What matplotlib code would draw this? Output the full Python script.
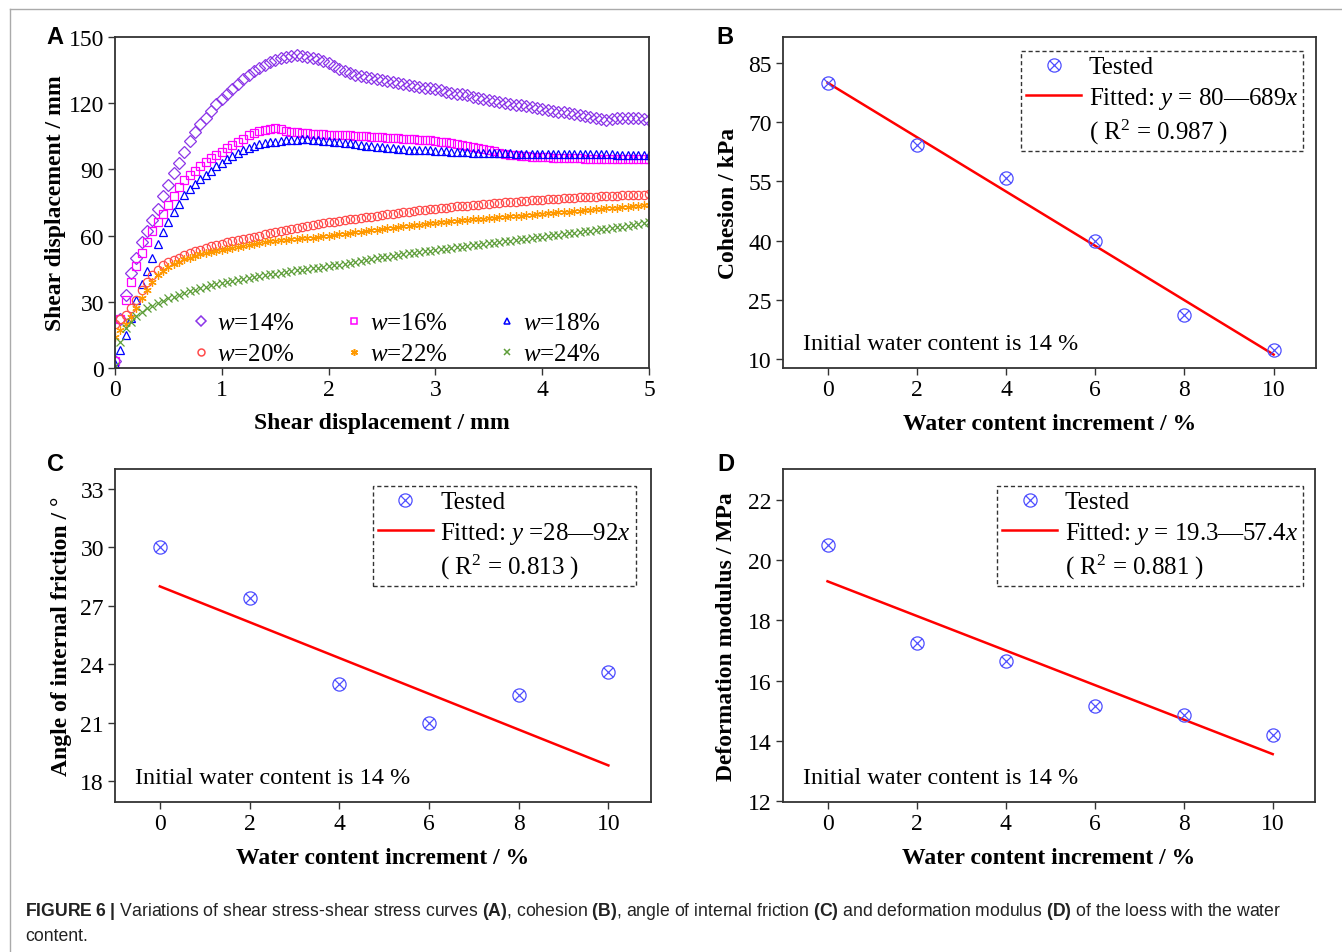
import numpy as np
import matplotlib.pyplot as plt
from matplotlib.path import Path
from matplotlib.lines import Line2D
from matplotlib.ticker import FormatStrFormatter

plt.rcParams['font.family'] = ['Liberation Serif', 'DejaVu Serif']
plt.rcParams['mathtext.fontset'] = 'custom'
plt.rcParams['mathtext.rm'] = 'Liberation Serif'
plt.rcParams['mathtext.it'] = 'Liberation Serif:italic'
plt.rcParams['mathtext.bf'] = 'Liberation Sans:bold'

# ---- panel A: shear curves, sampled every 0.05 mm ----
shear_x = np.round(np.arange(0, 5.001, 0.05), 2)
w14 = [3, 22, 33, 43, 50, 57, 62, 67, 72, 78,
       83, 88.5, 93, 98, 103, 107, 110.5, 113.5, 116.5, 119.5,
       122, 124, 126.5, 128.5, 131, 133, 134.5, 136, 137.5, 138.5,
       139.5, 140.5, 141, 141.5, 141.8, 141.5, 141, 140.5, 140, 139,
       138, 136.8, 135.5, 134.5, 133.5, 133, 132.5, 131.8, 131.5, 131,
       130.5, 130, 129.8, 129.3, 128.8, 128.3, 127.8, 127.3, 127, 126.7,
       126.3, 125.8, 125.3, 124.8, 124.3, 124, 123.6, 123, 122.3, 121.8,
       121.3, 120.9, 120.5, 120.2, 119.8, 119.4, 119, 118.6, 118.3, 118,
       117.5, 117, 116.6, 116.2, 115.8, 115.5, 115, 114.6, 114.2, 113.8,
       113.3, 112.8, 112.5, 113, 113.4, 113.5, 113.5, 113.4, 113.3, 113,
       112.5]
w16 = [3, 22, 31, 39, 46, 52, 57, 62, 66, 70,
       74, 78, 82, 85, 87.5, 89.5, 91.5, 93.3, 95, 96.5,
       98, 99.5, 101, 102.5, 104, 105.5, 106.5, 107.5, 108, 108.5,
       108.7, 108.5, 107.5, 107, 106.8, 106.5, 106.3, 106.2, 106, 105.9,
       105.8, 105.7, 105.6, 105.5, 105.4, 105.3, 105.1, 105, 104.8, 104.6,
       104.5, 104.4, 104.3, 104.2, 104.0, 103.9, 103.7, 103.5, 103.3, 103.1,
       102.9, 102.6, 102.3, 101.9, 101.5, 101, 100.6, 100.2, 99.8, 99.3,
       98.8, 98.2, 97.6, 97.1, 96.7, 96.4, 96.1, 95.9, 95.7, 95.6,
       95.5, 95.4, 95.3, 95.2, 95.1, 95.1, 95, 95, 94.9, 94.9,
       94.9, 94.8, 94.8, 94.8, 94.8, 94.7, 94.7, 94.7, 94.7, 94.7,
       94.7]
w18 = [2, 8, 15, 22.5, 31, 38, 44, 50, 56, 61.5,
       66, 70.5, 74.5, 78.5, 81, 83.5, 85.6, 87.5, 89.5, 91.5,
       93, 94.5, 96, 97.5, 98.7, 99.7, 100.5, 101.3, 101.8, 102.2,
       102.6, 102.9, 103.1, 103.3, 103.5, 103.6, 103.6, 103.4, 103.1, 102.9,
       102.7, 102.5, 102.3, 102, 101.8, 101.3, 101, 100.7, 100.4, 100.2,
       100, 99.8, 99.6, 99.4, 99.2, 99, 98.9, 98.8, 98.7, 98.6,
       98.5, 98.3, 98.2, 98, 97.9, 97.8, 97.7, 97.6, 97.5, 97.5,
       97.4, 97.4, 97.3, 97.3, 97.3, 97.2, 97.2, 97.2, 97.1, 97.1,
       97.1, 97, 97, 97, 97, 96.9, 96.9, 96.9, 96.9, 96.8,
       96.8, 96.8, 96.8, 96.8, 96.7, 96.7, 96.7, 96.7, 96.6, 96.6,
       96.6]
w20 = [20, 22, 24, 27, 31, 35.5, 39, 42, 44.5, 46.5,
       48, 49, 50, 51, 52, 52.8, 53.6, 54.4, 55.2, 55.8,
       56.4, 57, 57.5, 58, 58.5, 59, 59.5, 60, 60.5, 61,
       61.5, 62, 62.5, 63, 63.5, 64, 64.4, 64.8, 65.2, 65.6,
       66, 66.3, 66.6, 67, 67.3, 67.6, 68, 68.3, 68.6, 69,
       69.3, 69.6, 69.9, 70.2, 70.5, 70.8, 71.1, 71.4, 71.7, 72,
       72.2, 72.5, 72.7, 73, 73.2, 73.4, 73.6, 73.8, 74, 74.2,
       74.4, 74.6, 74.8, 75, 75.2, 75.4, 75.6, 75.8, 76, 76.1,
       76.3, 76.5, 76.6, 76.8, 76.9, 77.1, 77.2, 77.4, 77.5, 77.6,
       77.7, 77.8, 77.9, 78, 78.1, 78.2, 78.3, 78.4, 78.5, 78.6,
       78.8]
w22 = [14, 17, 20, 23, 27, 31.5, 35.5, 39, 42, 44,
       45.7, 47, 48.2, 49.2, 50, 50.8, 51.5, 52, 52.5, 53,
       53.5, 54, 54.5, 55, 55.4, 55.8, 56.2, 56.6, 57, 57.4,
       57.7, 57.9, 58.1, 58.3, 58.5, 58.7, 58.9, 59.1, 59.4, 59.7,
       60, 60.3, 60.6, 60.9, 61.2, 61.5, 61.8, 62.1, 62.4, 62.7,
       63, 63.3, 63.6, 63.9, 64.2, 64.5, 64.8, 65, 65.3, 65.5,
       65.8, 66, 66.3, 66.5, 66.7, 66.9, 67.1, 67.3, 67.5, 67.7,
       67.9, 68.1, 68.3, 68.5, 68.7, 68.9, 69.1, 69.3, 69.5, 69.7,
       69.9, 70.1, 70.3, 70.5, 70.7, 70.9, 71.1, 71.3, 71.5, 71.7,
       71.9, 72.1, 72.3, 72.5, 72.7, 72.9, 73.1, 73.3, 73.5, 73.7,
       73.9]
w24 = [1, 12, 18, 21, 23.5, 25.5, 27, 28.3, 29.5, 30.5,
       31.5, 32.4, 33.2, 34, 34.8, 35.5, 36.2, 36.9, 37.5, 38,
       38.5, 39, 39.5, 40, 40.4, 40.8, 41.2, 41.6, 42, 42.4,
       42.8, 43.2, 43.6, 44, 44.3, 44.6, 44.9, 45.2, 45.5, 45.8,
       46.1, 46.5, 46.9, 47.3, 47.7, 48.1, 48.5, 48.9, 49.3, 49.7,
       50.1, 50.5, 50.9, 51.3, 51.6, 52, 52.3, 52.6, 52.9, 53.2,
       53.5, 53.8, 54.1, 54.4, 54.7, 55, 55.3, 55.6, 55.9, 56.2,
       56.5, 56.8, 57.1, 57.4, 57.7, 58, 58.3, 58.6, 58.9, 59.2,
       59.5, 59.8, 60.1, 60.4, 60.7, 61, 61.3, 61.6, 61.9, 62.2,
       62.5, 62.8, 63.1, 63.4, 63.7, 64, 64.4, 64.8, 65.2, 65.6,
       66]
curve_labels = ['14%', '16%', '18%', '20%', '22%', '24%']

# ---- panels B-D: tested values and linear fits ----
increment = [0, 2, 4, 6, 8, 10]
cohesion = [80, 64.2, 55.9, 40, 21.2, 12.3]
friction = [30.0, 27.4, 23.0, 21.0, 22.4, 23.6]
modulus = [20.5, 17.25, 16.65, 15.15, 14.85, 14.2]
fit_b = (80, 689)      # y = a - b*x, x as a fraction
fit_c = (28, 92)
fit_d = (19.3, 57.4)
r2_b, r2_c, r2_d = 0.987, 0.813, 0.881

W, H = 1342, 953
fig = plt.figure(figsize=(W / 100, H / 100), dpi=100)


def px_axes(left, top, right, bottom):
    return fig.add_axes([left / W, 1 - bottom / H, (right - left) / W, (bottom - top) / H])


def style_axes(ax):
    for s in ax.spines.values():
        s.set_linewidth(1.3)
        s.set_color('#333333')
    ax.tick_params(direction='out', length=5, width=1, labelsize=17, color='#333333',
                   top=False, right=False, pad=3)
    ax.xaxis.set_major_formatter(FormatStrFormatter('%g'))
    ax.yaxis.set_major_formatter(FormatStrFormatter('%g'))


# circle with an x inside for tested points
cross = Path([(-0.71, -0.71), (0.71, 0.71), (-0.71, 0.71), (0.71, -0.71)],
             [Path.MOVETO, Path.LINETO, Path.MOVETO, Path.LINETO])
circle_x = Path.make_compound_path(Path.unit_circle(), cross)

# ---------------- A ----------------
axA = px_axes(115, 38, 649, 369)
style_axes(axA)
styles = [('D', '#8B35E8'), ('s', '#FF00FF'), ('^', '#0000FF'),
          ('o', '#FF4B4B'), ((6, 2, 0), '#FF9900'), ('x', '#5E9E3A')]
handles = []
for ys, lab, (mk, col) in zip([w14, w16, w18, w20, w22, w24], curve_labels, styles):
    axA.plot(shear_x, ys, linestyle='none', marker=mk, markersize=6,
             markerfacecolor='none', markeredgecolor=col, markeredgewidth=0.9)
    handles.append(Line2D([], [], linestyle='none', marker=mk, markersize=5,
                          markerfacecolor='none', markeredgecolor=col,
                          markeredgewidth=1.1, label='$w$=' + lab))
order = [0, 3, 1, 4, 2, 5]
axA.legend([handles[i] for i in order], [handles[i].get_label() for i in order],
           ncol=3, frameon=False, loc='lower left', bbox_to_anchor=(0.14, 0.0),
           borderpad=0, borderaxespad=0.1, fontsize=18, handlelength=0.7,
           handletextpad=0.3, columnspacing=2.0, labelspacing=0.35)
axA.set_xlim(0, 5)
axA.set_ylim(0, 150)
axA.set_xticks(range(6))
axA.set_yticks(range(0, 151, 30))
axA.set_xlabel('Shear displacement / mm', fontsize=17, fontweight='bold')
axA.set_ylabel('Shear displacement / mm', fontsize=17, fontweight='bold')
axA.xaxis.set_label_coords(0.5, -0.166)
axA.yaxis.set_label_coords(-0.112, 0.5)
axA.xaxis.label.set_va('center')
axA.yaxis.label.set_va('center')


def fit_panel(ax, yvals, fit, r2, ylim, yticks, ylabel, eq, leg_anchor, ylab_x):
    style_axes(ax)
    a, b = fit
    xs = np.array([0, 10])
    ax.plot(xs, a - b * xs / 100, color='#FF0000', lw=1.8, zorder=2)
    ax.plot(increment, yvals, linestyle='none', marker=circle_x, markersize=9.5,
            markerfacecolor='none', markeredgecolor='#4F4FFF', markeredgewidth=0.9, zorder=3)
    h_pts = Line2D([], [], linestyle='none', marker=circle_x, markersize=9.5,
                   markerfacecolor='none', markeredgecolor='#4F4FFF', markeredgewidth=0.9)
    h_line = Line2D([], [], color='#FF0000', lw=1.8)
    h_none = Line2D([], [], linestyle='none')
    leg = ax.legend([h_pts, h_line, h_none],
                    ['Tested', eq, '( R$^2$ = %.3f )' % r2],
                    loc='upper right', bbox_to_anchor=leg_anchor, borderaxespad=0,
                    fontsize=18, handlelength=2.2, handletextpad=0.3, labelspacing=0.25,
                    borderpad=0.2, fancybox=False, framealpha=1)
    fr = leg.get_frame()
    fr.set_linestyle((0, (3, 2)))
    fr.set_edgecolor('#333333')
    fr.set_linewidth(1.0)
    ax.text(0.0375, 0.075, 'Initial water content is 14 %', transform=ax.transAxes,
            fontsize=17.5, va='center', ha='left')
    ax.set_xlim(-1, 10.95)
    ax.set_ylim(*ylim)
    ax.set_xticks(range(0, 11, 2))
    ax.set_yticks(yticks)
    ax.set_xlabel('Water content increment / %', fontsize=17, fontweight='bold')
    ax.set_ylabel(ylabel, fontsize=17, fontweight='bold')
    ax.xaxis.set_label_coords(0.5, -0.168)
    ax.yaxis.set_label_coords(ylab_x, 0.5)
    ax.xaxis.label.set_va('center')
    ax.yaxis.label.set_va('center')


axB = px_axes(783, 38, 1316, 369)
fit_panel(axB, cohesion, fit_b, r2_b, (7.7, 91.6), range(10, 86, 15), 'Cohesion / kPa',
          'Fitted: $y$ = 80\u2014689$x$', (0.976, 0.958), -0.103)
axC = px_axes(115, 470, 651, 803)
fit_panel(axC, friction, fit_c, r2_c, (16.92, 34.03), range(18, 34, 3),
          'Angle of internal friction / \u00b0', 'Fitted: $y$ =28\u201492$x$',
          (0.972, 0.949), -0.099)
axD = px_axes(783, 470, 1315, 803)
fit_panel(axD, modulus, fit_d, r2_d, (11.97, 23.03), range(12, 23, 2),
          'Deformation modulus / MPa', 'Fitted: $y$ = 19.3\u201457.4$x$',
          (0.977, 0.949), -0.107)

# panel letters
for lab, (x, y) in zip('ABCD', [(46, 37), (716, 37), (47, 465), (717, 465)]):
    fig.text(x / W, 1 - y / H, lab, fontsize=17, fontweight='bold',
             family='Liberation Sans', va='center', ha='left')

# outer frame lines
fig.add_artist(Line2D([10 / W, 1], [1 - 10 / H, 1 - 10 / H], color='#AAAAAA', lw=1))
fig.add_artist(Line2D([10 / W, 10 / W], [0, 1 - 10 / H], color='#AAAAAA', lw=1))

# caption
cap1 = (r'$\mathbf{FIGURE\ 6\ |}$ Variations of shear stress-shear stress curves $\mathbf{(A)}$, '
        r'cohesion $\mathbf{(B)}$, angle of internal friction $\mathbf{(C)}$ and deformation '
        r'modulus $\mathbf{(D)}$ of the loess with the water')
fig.text(25 / W, 1 - 912 / H, cap1, fontsize=12.7, family='Liberation Sans',
         color='#222222', va='center', ha='left')
fig.text(25 / W, 1 - 937 / H, 'content.', fontsize=12.7, family='Liberation Sans',
         color='#222222', va='center', ha='left')

fig.savefig('out.png', dpi=100)
